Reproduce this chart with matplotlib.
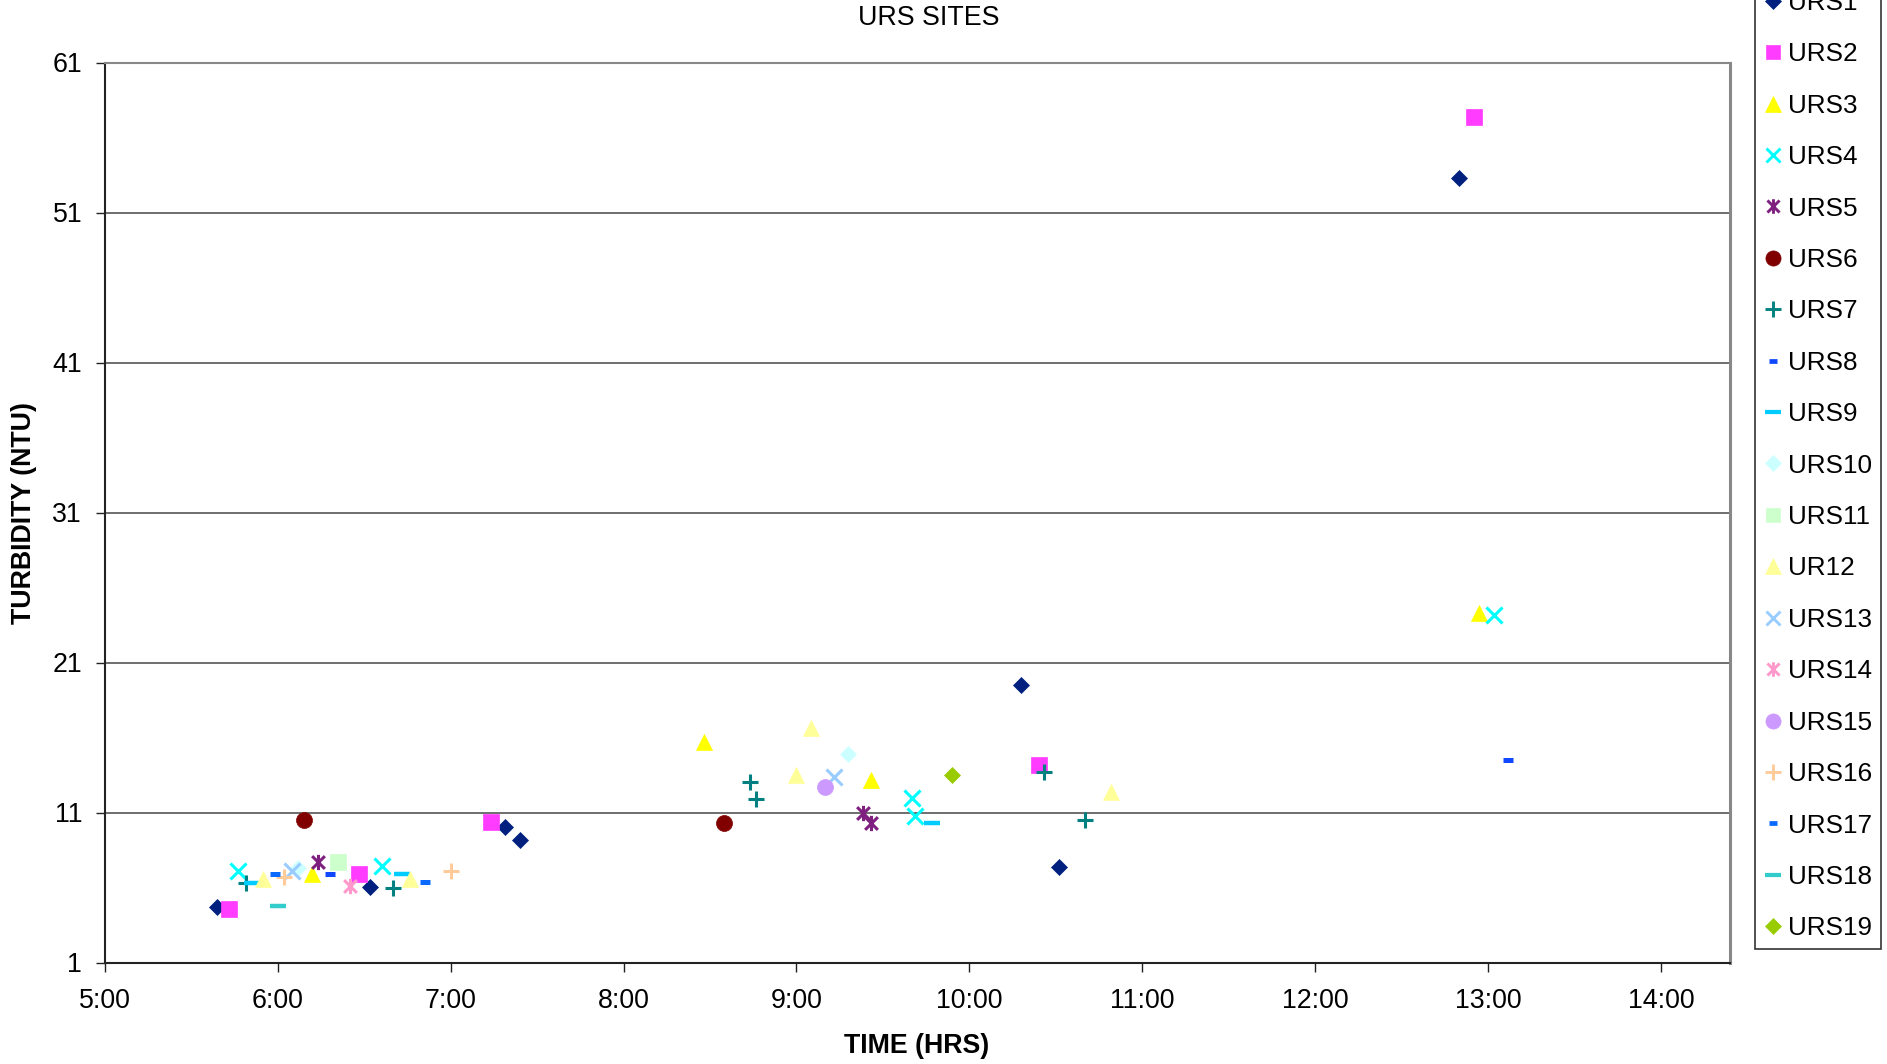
import matplotlib
matplotlib.use("Agg")
import matplotlib.pyplot as plt
from matplotlib.path import Path
from matplotlib.lines import Line2D

plt.rcParams['font.family'] = ['Liberation Sans', 'DejaVu Sans']

urs1_t = ["5:39", "6:32", "7:19", "7:24", "10:18", "10:31", "12:50"]
urs1_v = [4.7, 6.05, 10.05, 9.15, 19.5, 7.35, 53.3]
urs2_t = ["5:43", "6:28", "7:14", "10:24", "12:55"]
urs2_v = [4.6, 6.9, 10.35, 14.2, 57.4]
urs3_t = ["6:12", "8:28", "9:26", "12:57"]
urs3_v = [6.9, 15.7, 13.2, 24.3]
urs4_t = ["5:46", "6:36", "9:40", "9:41", "13:02"]
urs4_v = [7.1, 7.45, 12.0, 10.75, 24.2]
urs5_t = ["6:14", "9:23", "9:26"]
urs5_v = [7.7, 11.0, 10.3]
urs6_t = ["6:09", "8:35"]
urs6_v = [10.5, 10.3]
urs7_t = ["5:49", "6:40", "8:44", "8:46", "10:26", "10:40"]
urs7_v = [6.3, 6.0, 13.05, 11.9, 13.7, 10.5]
urs8_t = ["6:18", "13:07"]
urs8_v = [6.9, 14.5]
urs9_t = ["5:51", "6:43", "9:47"]
urs9_v = [6.3, 6.9, 10.3]
urs10_t = ["6:07", "9:18"]
urs10_v = [7.3, 14.9]
urs11_t = ["6:21"]
urs11_v = [7.7]
ur12_t = ["5:55", "6:46", "9:00", "9:05", "10:49"]
ur12_v = [6.6, 6.6, 13.5, 16.65, 12.35]
urs13_t = ["6:05", "9:13"]
urs13_v = [7.1, 13.35]
urs14_t = ["6:25"]
urs14_v = [6.1]
urs15_t = ["9:10"]
urs15_v = [12.7]
urs16_t = ["6:02", "7:00"]
urs16_v = [6.7, 7.1]
urs17_t = ["5:59", "6:51"]
urs17_v = [6.9, 6.35]
urs18_t = ["6:00"]
urs18_v = [4.8]
urs19_t = ["9:54"]
urs19_v = [13.5]

hour_ticks = list(range(5, 15))
ntu_ticks = list(range(1, 62, 10))


def to_hours(times):
    out = []
    for t in times:
        h, m = t.split(":")
        out.append(int(h) + int(m) / 60.0)
    return out


# Excel style asterisk: an x with a vertical bar
asterisk = Path([(-0.5, -0.5), (0.5, 0.5), (-0.5, 0.5), (0.5, -0.5), (0, -0.6), (0, 0.6)],
                [Path.MOVETO, Path.LINETO, Path.MOVETO, Path.LINETO, Path.MOVETO, Path.LINETO])

# label, times, values, marker, color, size, edge width
series = [
    ("URS1", urs1_t, urs1_v, "D", "#00207F", 8.5, 0.5),
    ("URS2", urs2_t, urs2_v, "s", "#FF3CFF", 11, 0.5),
    ("URS3", urs3_t, urs3_v, "^", "#FFFF00", 12, 0.5),
    ("URS4", urs4_t, urs4_v, "x", "#00FFFF", 11, 2.2),
    ("URS5", urs5_t, urs5_v, asterisk, "#7F1F7F", 11, 2.2),
    ("URS6", urs6_t, urs6_v, "o", "#800000", 11.5, 0.5),
    ("URS7", urs7_t, urs7_v, "+", "#008080", 12, 2.2),
    ("URS8", urs8_t, urs8_v, "_", "#1048FF", 6.5, 3.6),
    ("URS9", urs9_t, urs9_v, "_", "#00CCFF", 11.5, 3.2),
    ("URS10", urs10_t, urs10_v, "D", "#CCFFFF", 8.5, 0.5),
    ("URS11", urs11_t, urs11_v, "s", "#CCFFCC", 11, 0.5),
    ("UR12", ur12_t, ur12_v, "^", "#FFFF99", 12, 0.5),
    ("URS13", urs13_t, urs13_v, "x", "#99CCFF", 11, 2.2),
    ("URS14", urs14_t, urs14_v, asterisk, "#FF99CC", 11, 2.2),
    ("URS15", urs15_t, urs15_v, "o", "#CC99FF", 11.5, 0.5),
    ("URS16", urs16_t, urs16_v, "+", "#FFCC99", 12, 2.2),
    ("URS17", urs17_t, urs17_v, "_", "#0A6AFF", 6.5, 3.6),
    ("URS18", urs18_t, urs18_v, "_", "#33CCCC", 11.5, 3.2),
    ("URS19", urs19_t, urs19_v, "D", "#99CC00", 8.5, 0.5),
]

fig = plt.figure(figsize=(18.87, 10.64), dpi=100)
ax = fig.add_axes([105 / 1887, 1 - 962.5 / 1064, 1625 / 1887, 900 / 1064])

handles = []
for name, times, vals, mk, col, ms, mew in series:
    ax.plot(to_hours(times), vals, linestyle="none", marker=mk, color=col,
            markersize=ms, markeredgewidth=mew, markeredgecolor=col, zorder=3)
    handles.append(Line2D([], [], linestyle="none", marker=mk, color=col,
                          markersize=ms * 0.95, markeredgewidth=mew * 0.95,
                          markeredgecolor=col, label=name))

ax.set_xlim(5, 14.4)
ax.set_ylim(1, 61)
ax.set_xticks(hour_ticks)
ax.set_xticklabels([f"{h}:00" for h in hour_ticks])
ax.set_yticks(ntu_ticks)
ax.yaxis.grid(True, color="#555555", linewidth=1.2)
ax.set_axisbelow(True)
ax.tick_params(axis="both", labelsize=19.3, length=6.5, width=1, direction="out", color="#222222")
ax.tick_params(axis="x", pad=12)
ax.tick_params(axis="y", pad=10)

for side in ["left", "bottom"]:
    ax.spines[side].set_color("#222222")
    ax.spines[side].set_linewidth(1.5)
ax.spines["top"].set_color("#888888")
ax.spines["top"].set_linewidth(1.5)
ax.spines["right"].set_color("#888888")
ax.spines["right"].set_linewidth(2.2)

ax.set_xlabel("TIME (HRS)", fontsize=19.3, fontweight="bold")
ax.xaxis.set_label_coords(0.4997, -0.078)
ax.set_ylabel("TURBIDITY (NTU)", fontsize=19.3, fontweight="bold")
ax.yaxis.set_label_coords(-0.042, 0.5)

fig.text(929 / 1887, 1 - 18 / 1064, "URS SITES", fontsize=19.3, ha="center", va="center")

leg = fig.legend(handles=handles, loc="lower left", bbox_to_anchor=(1755 / 1887, 1 - 949 / 1064),
                 fontsize=18.8, frameon=True, fancybox=False, edgecolor="black",
                 handlelength=0.7, handletextpad=0.25, labelspacing=1.05,
                 borderpad=0.33, borderaxespad=0)
leg.get_frame().set_linewidth(1.2)

fig.savefig("out.png", dpi=100)
